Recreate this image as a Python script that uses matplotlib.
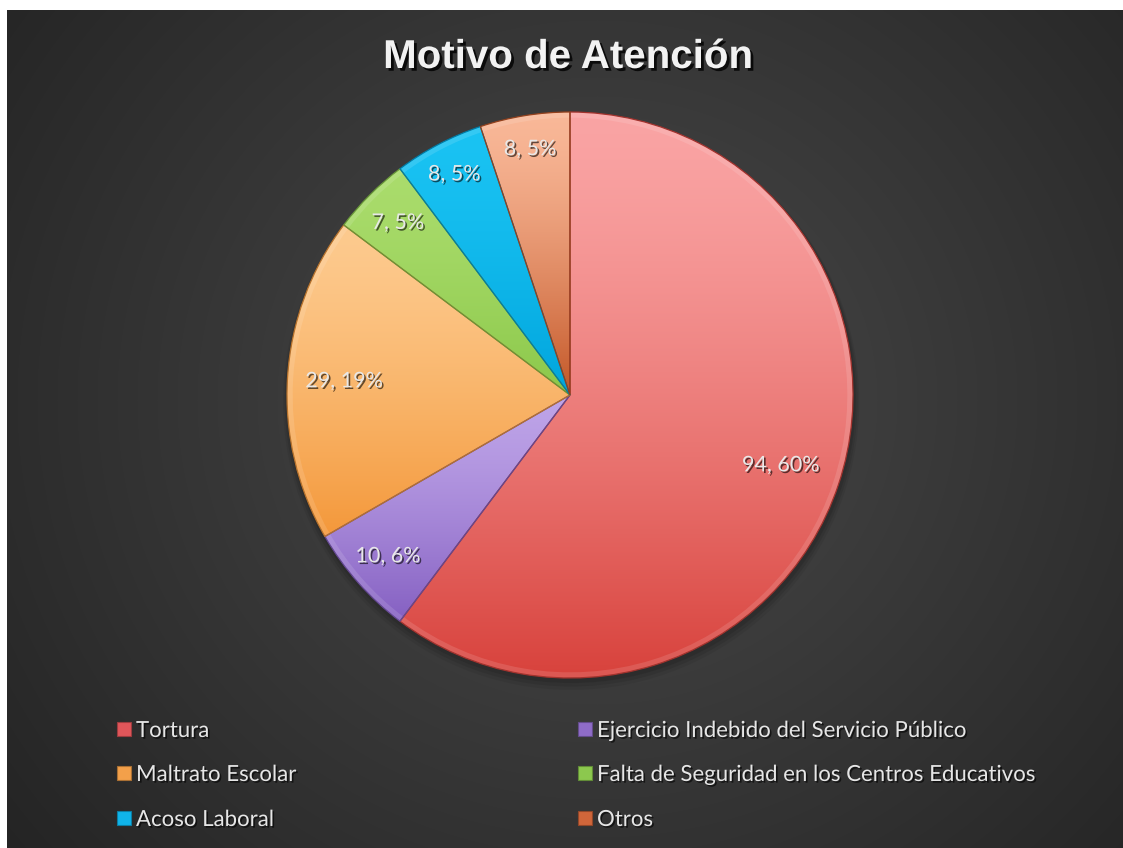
import numpy as np
import matplotlib
matplotlib.use('Agg')
import matplotlib.pyplot as plt
import matplotlib.patches as patches
import matplotlib.patheffects as pe
from matplotlib.colors import to_rgb

# data
categories = ['Tortura', 'Ejercicio Indebido del Servicio Público', 'Maltrato Escolar',
              'Falta de Seguridad en los Centros Educativos', 'Acoso Laboral', 'Otros']
values = [94, 10, 29, 7, 8, 8]
pct_labels = ['60%', '6%', '19%', '5%', '5%', '5%']

# (top colour, bottom colour) of each slice gradient
grad = [('#faa4a4', '#d8423c'),
        ('#bea4e8', '#8560c2'),
        ('#fdca8e', '#f4983a'),
        ('#aadc6c', '#8bc84a'),
        ('#1ac3f3', '#00a5dd'),
        ('#f9b898', '#c45727')]
legend_col = ['#e0565a', '#8f6cc8', '#f3a04a', '#8cc84e', '#10b4ea', '#d0663a']
label_r = [0.785, 0.86, 0.80, 0.86, 0.88, 0.88]

W, H = 1123, 848
fig = plt.figure(figsize=(W / 100, H / 100), dpi=100, facecolor='white')

# background: radial dark-grey gradient, white strip on top / left
bg = fig.add_axes([7 / W, 0, (W - 7) / W, (H - 10) / H], zorder=0)
yy, xx = np.mgrid[0:838, 0:1116]
d = np.sqrt(((xx - 590) / 1.0) ** 2 + ((yy - 390) / 0.95) ** 2) / 760
d = np.clip(d, 0, 1)
c0, c1 = np.array(to_rgb('#4a4a4a')), np.array(to_rgb('#242424'))
img = c0[None, None, :] * (1 - d[..., None]) + c1[None, None, :] * d[..., None]
bg.imshow(img, aspect='auto', extent=[0, 1, 0, 1], interpolation='bilinear')
bg.set_axis_off()

# pie axes: centre at (570, 395) px, radius 283 px
R = 283
half = 300
ax = fig.add_axes([(570 - half) / W, (H - 395 - half) / H, 2 * half / W, 2 * half / H], zorder=1)

wedges, _ = ax.pie(values, startangle=90, counterclock=False, radius=1,
                   colors=[g[1] for g in grad],
                   wedgeprops=dict(linewidth=0.9, zorder=2))
lim = half / R
ax.set_xlim(-lim, lim)
ax.set_ylim(-lim, lim)
ax.set_axis_off()

# soft shadow under the pie
for k, a in enumerate([0.10, 0.08, 0.06]):
    ax.add_patch(patches.Circle((0.004, -0.012 - 0.006 * k), 1.0 + 0.006 * (k + 1),
                                facecolor='black', alpha=a, lw=0, zorder=0.5))

n = 256
for w, (top, bot), r, v, p in zip(wedges, grad, label_r, values, pct_labels):
    ext = w.get_path().get_extents()
    y0, y1 = max(ext.y0, -1), min(ext.y1, 1)
    t = np.linspace(0, 1, n)[:, None]
    t = t ** 1.4
    ct, cb = np.array(to_rgb(top)), np.array(to_rgb(bot))
    g = ct[None, :] * (1 - t) + cb[None, :] * t
    g = g[:, None, :]
    im = ax.imshow(g, extent=[-1, 1, y0, y1], aspect='auto', zorder=1.5,
                   interpolation='bilinear')
    im.set_clip_path(w)
    w.set_facecolor('none')
    w.set_edgecolor(tuple(0.75 * np.array(to_rgb(bot))))
    # light bevel along the outline
    bev = patches.Wedge(w.center, w.r, w.theta1, w.theta2, width=0.02,
                        facecolor='white', alpha=0.12, lw=0, zorder=1.8)
    ax.add_patch(bev)
    # data label
    ang = np.deg2rad((w.theta1 + w.theta2) / 2)
    ax.text(r * np.cos(ang), r * np.sin(ang), f'{v}, {p}', ha='center', va='center',
            fontsize=15.5, family='Lato', color='#e8e8e8', zorder=3,
            path_effects=[pe.withSimplePatchShadow(offset=(1.2, -1.2),
                                                   shadow_rgbFace='black', alpha=0.6)])

# title
fig.text(568 / W, 1 - 57 / H, 'Motivo de Atención', ha='center', va='center',
         fontsize=29, fontweight='bold', family='Liberation Sans', color='#f2f2f2',
         path_effects=[pe.withSimplePatchShadow(offset=(2, -2),
                                                shadow_rgbFace='black', alpha=0.8)])

# legend, two columns
col_x = [117, 578]
row_y = [729, 773, 818]
sq = 14
for i, (name, c) in enumerate(zip(categories, legend_col)):
    x = col_x[i % 2]
    y = row_y[i // 2]
    fig.patches.append(patches.Rectangle((x / W, (H - y - sq / 2) / H), sq / W, sq / H,
                                         transform=fig.transFigure, facecolor=c,
                                         edgecolor=tuple(0.7 * np.array(to_rgb(c))),
                                         lw=0.8, zorder=5))
    fig.text((x + sq + 5) / W, 1 - y / H, name, ha='left', va='center_baseline',
             fontsize=16, family='Lato', color='#e6e6e6', zorder=5,
             path_effects=[pe.withSimplePatchShadow(offset=(1.2, -1.2),
                                                    shadow_rgbFace='black', alpha=0.6)])

fig.savefig('out.png', dpi=100, facecolor='white')
